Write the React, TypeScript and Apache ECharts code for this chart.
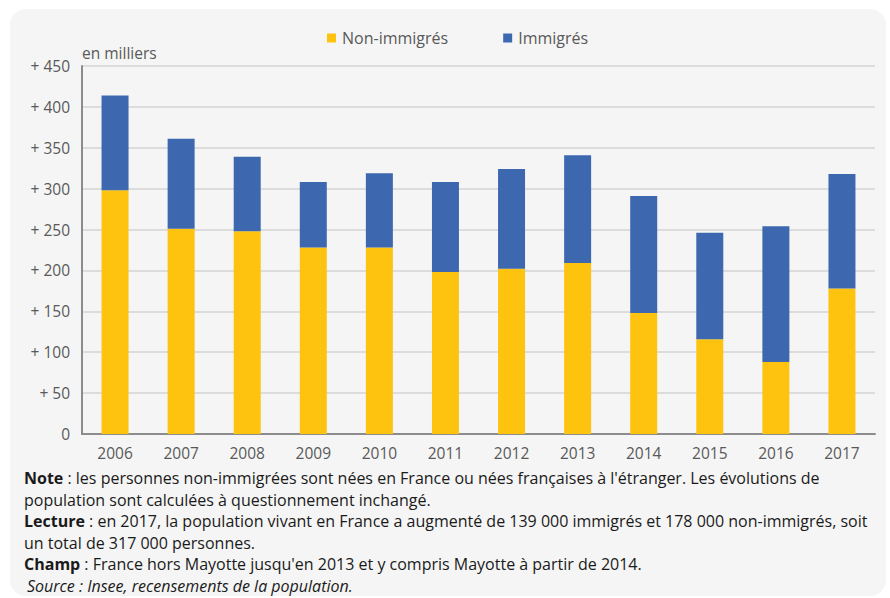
import React, { useEffect, useRef } from "react";
import * as echarts from "echarts";

const years = ["2006", "2007", "2008", "2009", "2010", "2011", "2012", "2013", "2014", "2015", "2016", "2017"];
const nonImmigres = [298, 251, 248, 228, 228, 198, 202, 209, 148, 116, 88, 178];
const immigres = [116, 110, 91, 80, 91, 110, 122, 132, 143, 130, 166, 140];
const yTicks = [0, 50, 100, 150, 200, 250, 300, 350, 400, 450];

const FONT = "'Open Sans', 'Noto Sans', sans-serif";

export default function App() {
  const ref = useRef<HTMLDivElement>(null);
  useEffect(() => {
    document.body.style.margin = "0";
    if (!ref.current) return;
    const chart = echarts.init(ref.current, null, { renderer: "svg" });
    const noteLines = [
      "{b|Note} : les personnes non-immigrées sont nées en France ou nées françaises à l'étranger. Les évolutions de",
      "population sont calculées à questionnement inchangé.",
      "{b|Lecture} : en 2017, la population vivant en France a augmenté de 139 000 immigrés et 178 000 non-immigrés, soit",
      "un total de 317 000 personnes.",
      "{b|Champ} : France hors Mayotte jusqu'en 2013 et y compris Mayotte à partir de 2014.",
    ];
    const noteY = [478, 499.5, 521, 542.5, 564];
    chart.setOption({
      animation: false,
      backgroundColor: "#ffffff",
      textStyle: { fontFamily: FONT },
      graphic: [
        {
          type: "rect",
          z: -10,
          silent: true,
          shape: { x: 10, y: 9, width: 876, height: 587, r: 16 },
          style: { fill: "#f5f5f5" },
        },
        {
          type: "text",
          x: 82,
          y: 53,
          style: { text: "en milliers", fontFamily: FONT, fontSize: 15.5, fill: "#595959", verticalAlign: "middle" },
        },
        ...noteLines.map((t, i) => ({
          type: "text",
          x: 24,
          y: noteY[i],
          style: {
            text: t,
            fill: "#1a1a1a",
            fontFamily: FONT,
            fontSize: 16,
            verticalAlign: "middle",
            rich: { b: { fontWeight: "bold", fontSize: 16, fontFamily: FONT, fill: "#1a1a1a" } },
          },
        })),
        {
          type: "text",
          x: 27,
          y: 585.5,
          style: {
            text: "Source : Insee, recensements de la population.",
            fontFamily: FONT,
            fontSize: 16,
            fontStyle: "italic",
            fill: "#1a1a1a",
            verticalAlign: "middle",
          },
        },
      ],
      legend: {
        top: 25,
        left: 322,
        itemWidth: 9,
        itemHeight: 9,
        itemGap: 55,
        icon: "rect",
        textStyle: { fontFamily: FONT, fontSize: 16, color: "#595959", padding: [0, 0, 0, 1] },
        data: ["Non-immigrés", "Immigrés"],
      },
      grid: { left: 82, right: 15, top: 66, bottom: 164, containLabel: false },
      xAxis: {
        type: "category",
        data: years,
        axisLine: { lineStyle: { color: "#8c8c8c", width: 2 } },
        axisTick: { show: false },
        axisLabel: { color: "#595959", fontSize: 15.5, fontFamily: FONT, margin: 11 },
      },
      yAxis: {
        type: "value",
        min: yTicks[0],
        max: yTicks[yTicks.length - 1],
        interval: 50,
        axisLine: { show: true, lineStyle: { color: "#8c8c8c", width: 2 } },
        axisTick: { show: false },
        splitLine: { lineStyle: { color: "#dcdcdc", width: 2 } },
        axisLabel: {
          color: "#595959",
          fontSize: 15.5,
          fontFamily: FONT,
          margin: 12,
          formatter: (v: number) => (v === 0 ? "0" : "+ " + v),
        },
      },
      series: [
        {
          name: "Non-immigrés",
          type: "bar",
          stack: "total",
          data: nonImmigres,
          barWidth: 27,
          itemStyle: { color: "#fdc30e" },
        },
        {
          name: "Immigrés",
          type: "bar",
          stack: "total",
          data: immigres,
          barWidth: 27,
          itemStyle: { color: "#3d68b0" },
        },
      ],
    });
    return () => chart.dispose();
  }, []);
  return <div ref={ref} style={{ width: 890, height: 598 }} />;
}
